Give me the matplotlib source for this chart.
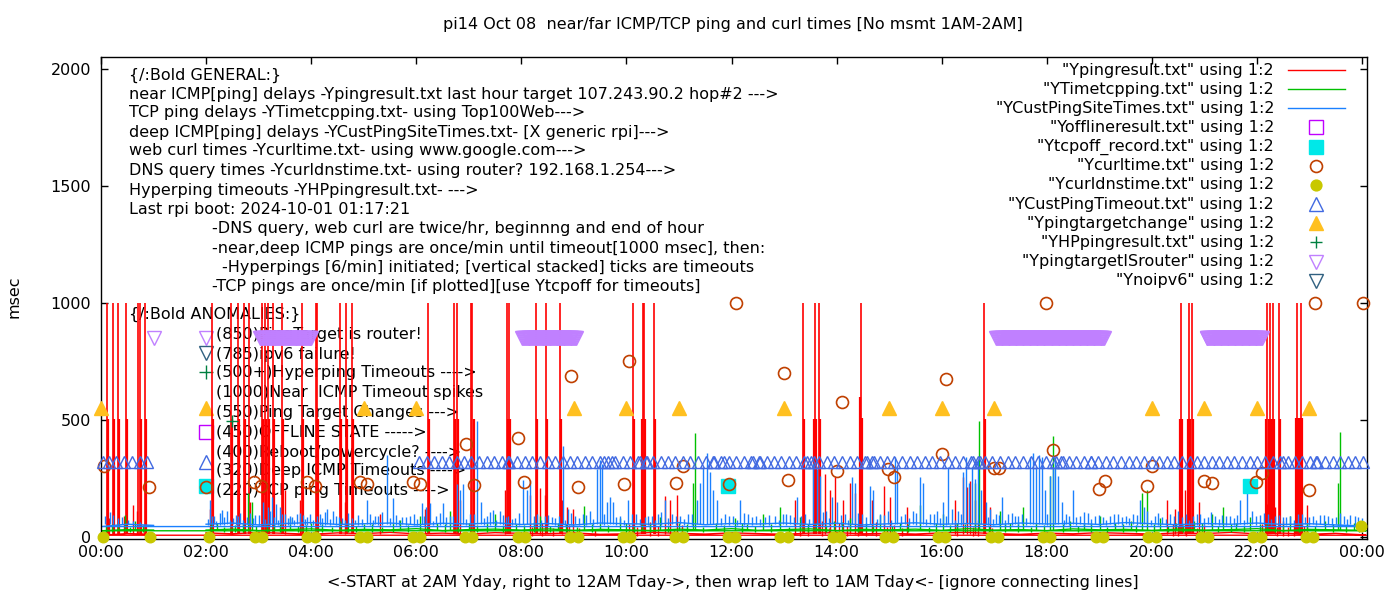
import matplotlib
matplotlib.use("Agg")
import matplotlib.pyplot as plt
from matplotlib.lines import Line2D
import numpy as np

plt.rcParams['font.family'] = ['DejaVu Sans']
FS = 11.5
W, H = 1400, 600

# ---------------- data: hours of day / msec ----------------
# samples run 2AM -> midnight, then wrap to 00:00 -> 1AM
base_hours = [2.0, 2.5, 3.0, 3.5, 4.0, 4.5, 5.0, 5.5, 6.0, 6.5, 7.0, 7.5, 8.0, 8.5,
              9.0, 9.5, 10.0, 10.5, 11.0, 11.5, 12.0, 12.5, 13.0, 13.5, 14.0, 14.5,
              15.0, 15.5, 16.0, 16.5, 17.0, 17.5, 18.0, 18.5, 19.0, 19.5, 20.0, 20.5,
              21.0, 21.5, 22.0, 22.5, 23.0, 23.5, 24.0, 24.08, 0.0, 0.5, 1.0]
red_base = [18, 14, 20, 16, 12, 18, 15, 20, 14, 17, 13, 19, 16, 15, 18, 12, 14, 20,
            16, 13, 18, 15, 12, 17, 19, 14, 16, 13, 18, 20, 15, 12, 17, 14, 19, 16,
            13, 18, 15, 20, 14, 17, 12, 16, 10, 8, 8, 15, 12]
green_base = [30, 34, 28, 32, 35, 29, 33, 31, 36, 28, 32, 34, 30, 35, 29, 33, 31, 28,
              34, 30, 36, 29, 32, 35, 28, 33, 31, 34, 29, 36, 30, 32, 28, 35, 31, 33,
              29, 34, 30, 32, 36, 28, 33, 31, 29, 27, 27, 32, 30]
blue_base = [55, 60, 52, 58, 62, 54, 57, 60, 53, 59, 56, 61, 54, 58, 52, 60, 57, 55,
             62, 53, 58, 56, 60, 54, 59, 52, 57, 61, 55, 58, 53, 60, 56, 59, 54, 62,
             57, 53, 58, 55, 60, 54, 57, 52, 48, 45, 45, 55, 50]

# near ICMP timeouts (1000 msec)
red_timeout_t = [0.12, 0.22, 0.33, 0.48, 0.71, 0.74, 0.84, 2.12, 2.48, 2.60, 2.73, 2.82,
                 3.07, 3.12, 3.18, 3.28, 3.45, 3.82, 4.09, 4.11, 4.55, 4.66, 4.78, 6.22,
                 6.72, 6.78, 7.04, 7.07, 7.73, 7.76, 8.28, 8.47, 8.74, 10.12, 10.31,
                 10.34, 10.52, 13.36, 13.59, 13.66, 14.47, 16.81, 20.56, 20.71, 20.76,
                 22.20, 22.24, 22.30, 22.42, 22.76, 22.84]
red_half_t = [0.14, 0.24, 0.35, 0.50, 0.76, 0.86, 2.14, 2.50, 2.62, 2.75, 3.09, 3.14,
              3.20, 3.30, 3.47, 3.84, 4.13, 4.57, 4.68, 4.80, 6.24, 6.74, 6.80, 7.09,
              7.75, 7.78, 8.30, 8.49, 8.76, 10.14, 10.29, 10.36, 10.54, 13.38, 13.57,
              13.61, 13.68, 14.45, 14.49, 16.83, 20.54, 20.58, 20.69, 20.73, 20.78,
              22.18, 22.22, 22.26, 22.28, 22.32, 22.44, 22.74, 22.78, 22.82, 22.86]
red_half_v = [505, 505, 505, 505, 505, 505, 505, 505, 505, 505, 505, 505, 505, 505, 505,
              505, 505, 505, 505, 505, 505, 505, 505, 505, 505, 505, 505, 505, 505, 505,
              505, 505, 505, 505, 505, 505, 505, 600, 510, 505, 506, 506, 506, 506, 506,
              506, 506, 506, 506, 506, 506, 510, 510, 510, 510]
red_mid_t = [0.15, 0.44, 0.61, 0.69, 2.07, 2.84, 3.50, 3.79, 4.64, 5.31, 6.17, 6.83,
             7.69, 8.17, 8.36, 8.45, 8.77, 8.87, 8.98, 10.73, 10.83, 10.96, 13.21,
             13.78, 13.88, 13.97, 14.12, 14.26, 14.35, 14.67, 14.90, 15.02, 15.34, 16.25,
             16.41, 16.48, 16.54, 16.63, 16.92, 20.29, 20.44, 20.63, 20.90, 22.19,
             22.34, 22.95]
red_mid_v = [80, 90, 136, 110, 120, 150, 200, 160, 150, 100, 120, 160, 200, 180, 208,
             180, 160, 130, 120, 175, 160, 180, 160, 270, 200, 255, 160, 230, 190, 160,
             220, 170, 130, 160, 255, 213, 240, 160, 130, 157, 120, 200, 150, 140, 130,
             136]
red_fuzz_t = [8.20, 8.40, 8.60, 8.90, 9.10, 9.40, 10.05, 10.20, 10.45, 10.60, 10.90, 11.05,
              13.30, 13.45, 13.72, 13.85, 14.05, 14.20, 14.40, 14.55, 14.75, 14.95, 15.10,
              15.25, 16.30, 16.60, 16.70, 16.95, 20.40, 20.50, 20.65, 20.85, 21.00, 22.10,
              22.38, 22.50, 22.60, 22.70, 22.90]
red_fuzz_v = [45, 60, 38, 52, 40, 35, 55, 42, 65, 48, 36, 50, 58, 44, 70, 40, 62, 47, 55,
              38, 66, 43, 51, 37, 60, 45, 72, 40, 55, 48, 63, 38, 50, 58, 44, 67, 41, 53,
              46]

green_spike_t = [0.32, 0.46, 0.65, 2.20, 2.80, 2.87, 3.30, 3.60, 4.00, 4.55, 5.00, 5.69,
                 6.07, 6.40, 6.64, 7.00, 7.50, 7.90, 8.36, 8.70, 9.19, 9.50, 9.88, 10.30,
                 10.64, 11.00, 11.27, 11.31, 11.70, 12.07, 12.30, 12.60, 12.92, 13.30,
                 13.60, 13.95, 14.26, 14.55, 14.83, 15.20, 15.59, 16.03, 16.30, 16.63,
                 16.71, 17.11, 17.30, 17.55, 17.80, 18.06, 18.12, 18.45, 18.70, 19.01,
                 19.30, 19.60, 19.81, 19.91, 20.16, 20.45, 20.80, 21.15, 21.36, 21.60,
                 21.87, 22.20, 22.63, 22.95, 23.30, 23.54, 23.58, 23.85]
green_spike_v = [60, 94, 70, 60, 189, 150, 55, 80, 60, 70, 55, 75, 90, 60, 110, 60, 100,
                 55, 90, 60, 133, 60, 80, 55, 85, 60, 232, 446, 60, 80, 55, 100, 130, 85,
                 60, 70, 80, 60, 95, 60, 135, 100, 60, 230, 494, 110, 60, 130, 60, 260,
                 433, 70, 60, 90, 60, 70, 189, 200, 80, 60, 70, 100, 130, 60, 85, 60, 90,
                 60, 70, 230, 447, 60]
green_fuzz_t = [0.10, 0.20, 0.55, 0.80, 2.10, 2.35, 2.55, 2.70, 2.95, 3.15, 3.40, 3.75,
                3.90, 4.20, 4.40, 4.70, 4.85, 5.15, 5.35, 5.55, 5.85, 6.20, 6.55, 6.80,
                7.15, 7.35, 7.65, 8.05, 8.25, 8.55, 8.85, 9.05, 9.35, 9.65, 10.00, 10.15,
                10.45, 10.80, 11.15, 11.45, 11.85, 12.20, 12.45, 12.75, 13.10, 13.45,
                13.80, 14.10, 14.40, 14.70, 15.05, 15.35, 15.75, 15.90, 16.15, 16.45,
                16.90, 17.20, 17.45, 17.70, 17.95, 18.30, 18.60, 18.85, 19.15, 19.45,
                19.70, 20.05, 20.30, 20.60, 20.95, 21.25, 21.50, 21.75, 22.05, 22.35,
                22.50, 22.80, 23.10, 23.45, 23.70, 23.95]
green_fuzz_v = [48, 55, 45, 52, 58, 44, 50, 62, 47, 53, 57, 46, 51, 60, 43, 54, 49, 56,
                45, 61, 50, 47, 58, 44, 53, 59, 46, 52, 65, 48, 55, 43, 57, 50, 62, 46,
                54, 49, 58, 45, 52, 60, 47, 55, 44, 57, 51, 63, 46, 53, 49, 58, 45, 61,
                50, 56, 47, 54, 59, 44, 52, 57, 48, 62, 45, 55, 50, 58, 46, 53, 60, 47,
                54, 49, 57, 44, 52, 59, 48, 55, 50, 46]

blue_spike_t = [0.08, 0.17, 0.23, 0.32, 0.40, 0.51, 0.61, 0.74,
                2.07, 2.15, 2.30, 2.40, 2.51, 2.65, 2.78, 2.93, 3.08, 3.18, 3.25, 3.33,
                3.41, 3.50, 3.64, 3.73, 3.84, 3.98, 4.11, 4.30, 4.42, 4.59, 4.83, 5.06,
                5.22, 5.44, 5.56, 5.73, 5.88, 6.11, 6.19, 6.26, 6.38, 6.51, 6.64, 6.78,
                6.83, 6.89, 7.02, 7.16, 7.23, 7.35, 7.46, 7.59, 7.75, 7.88, 8.03, 8.11,
                8.17, 8.30, 8.45, 8.58, 8.79, 8.89, 9.02, 9.17, 9.31, 9.44, 9.50, 9.53,
                9.63, 9.69, 9.74, 9.88, 10.03, 10.18, 10.35, 10.48, 10.60, 10.73, 10.87,
                11.02, 11.17, 11.34, 11.40, 11.46, 11.53, 11.59, 11.65, 11.72, 11.87,
                12.03, 12.16, 12.31, 12.47, 12.64, 12.83, 12.98, 13.11, 13.25, 13.40,
                13.55, 13.63, 13.68, 13.80, 13.91, 14.01, 14.16, 14.29, 14.35, 14.48,
                14.64, 14.69, 14.83, 14.98, 15.11, 15.15, 15.30, 15.45, 15.59, 15.65,
                15.78, 15.91, 16.03, 16.12, 16.20, 16.31, 16.41, 16.46, 16.52, 16.58,
                16.63, 16.69, 16.75, 16.84, 16.92, 17.03, 17.15, 17.26, 17.40, 17.53,
                17.68, 17.74, 17.80, 17.85, 17.91, 17.97, 18.06, 18.12, 18.16, 18.21,
                18.29, 18.37, 18.50, 18.63, 18.79, 18.92, 19.07, 19.20, 19.36, 19.51,
                19.64, 19.78, 19.85, 19.91, 20.06, 20.19, 20.35, 20.50, 20.65, 20.78,
                20.92, 21.07, 21.20, 21.34, 21.49, 21.68, 21.81, 21.91, 22.06, 22.21,
                22.34, 22.50, 22.63, 22.78, 22.92, 23.07, 23.20, 23.35, 23.51, 23.66,
                23.78, 23.93]
blue_spike_v = [90, 108, 95, 80, 85, 75, 70, 65,
                159, 90, 116, 110, 80, 103, 85, 95, 150, 130, 170, 140,
                130, 100, 85, 100, 95, 100, 90, 120, 110, 80, 75, 160,
                90, 352, 167, 85, 90, 145, 130, 145, 90, 145, 90, 228,
                200, 228, 100, 494, 150, 90, 115, 110, 90, 80, 245, 200,
                245, 100, 90, 85, 387, 120, 90, 100, 110, 290, 330, 310,
                150, 172, 150, 90, 160, 100, 85, 90, 100, 160, 100,
                90, 100, 160, 230, 300, 360, 280, 200, 160, 100,
                90, 160, 100, 90, 85, 90, 100, 95, 170, 100,
                317, 290, 260, 110, 170, 150, 100, 257, 230, 100,
                220, 200, 100, 110, 343, 300, 100, 110, 257, 230,
                100, 110, 150, 300, 120, 110, 280, 340, 230, 300,
                250, 330, 200, 150, 120, 100, 172, 100, 90, 100,
                340, 360, 300, 350, 340, 200, 260, 300, 343, 260,
                150, 100, 200, 90, 103, 90, 85, 90, 100, 90,
                100, 160, 130, 110, 90, 85, 100, 110, 100, 90,
                100, 85, 90, 95, 90, 160, 210, 110, 95, 100,
                90, 85, 90, 100, 85, 90, 95, 90, 85, 90,
                95, 85]
blue_fuzz_t = [2.03, 2.11, 2.19, 2.26, 2.35, 2.45, 2.56, 2.60, 2.71, 2.84,
               2.89, 3.01, 3.12, 3.21, 3.29, 3.37, 3.45, 3.55, 3.60, 3.68,
               3.78, 3.89, 3.93, 4.04, 4.16, 4.21, 4.26, 4.35, 4.48, 4.53,
               4.65, 4.71, 4.77, 4.90, 4.96, 5.12, 5.17, 5.28, 5.34, 5.50,
               5.62, 5.67, 5.80, 5.95, 6.02, 6.15, 6.31, 6.45, 6.57, 6.70,
               6.95, 7.09, 7.29, 7.40, 7.52, 7.66, 7.70, 7.82, 7.95, 8.24,
               8.37, 8.51, 8.64, 8.72, 8.84, 8.95, 9.09, 9.24, 9.37, 9.58,
               9.80, 9.95, 10.10, 10.25, 10.41, 10.54, 10.66, 10.80, 10.95, 11.10,
               11.25, 11.80, 11.95, 12.10, 12.24, 12.39, 12.55, 12.72, 12.90, 13.04,
               13.18, 13.32, 13.47, 13.74, 13.86, 14.08, 14.22, 14.41, 14.56, 14.76,
               14.90, 15.04, 15.22, 15.37, 15.52, 15.71, 15.85, 15.97, 16.08, 16.25,
               16.36, 16.88, 16.97, 17.09, 17.20, 17.33, 17.46, 17.60, 18.00, 18.33,
               18.43, 18.56, 18.70, 18.85, 19.00, 19.13, 19.28, 19.43, 19.57, 19.71,
               19.98, 20.12, 20.27, 20.42, 20.57, 20.71, 20.85, 21.00, 21.13, 21.27,
               21.41, 21.56, 21.62, 21.75, 21.98, 22.13, 22.27, 22.42, 22.56, 22.70,
               22.85, 23.00, 23.13, 23.28, 23.43, 23.58, 23.72, 23.86, 24.00]
blue_fuzz_v = [78, 92, 70, 101, 84, 75, 96, 88, 72, 105,
               80, 94, 76, 110, 86, 73, 99, 82, 91, 74,
               104, 79, 87, 71, 97, 83, 108, 76, 90, 85,
               73, 102, 80, 93, 77, 98, 72, 89, 106, 81,
               95, 74, 87, 100, 78, 92, 70, 103, 84, 90,
               76, 99, 81, 107, 73, 94, 86, 78, 101, 88,
               72, 96, 83, 91, 75, 104, 80, 93, 77, 98,
               85, 72, 100, 79, 92, 74, 106, 83, 88, 76,
               97, 81, 90, 73, 103, 86, 78, 95, 71, 99,
               84, 92, 77, 108, 80, 94, 73, 101, 87, 79,
               96, 74, 90, 83, 105, 76, 98, 82, 89, 72,
               100, 85, 78, 94, 71, 103, 88, 80, 97, 75,
               91, 84, 106, 77, 93, 72, 99, 86, 81, 95,
               74, 102, 79, 90, 85, 73, 97, 83, 108, 76,
               92, 80, 94, 71, 88, 101, 78, 96, 84, 73,
               99, 87, 75, 93, 80, 104, 77, 90, 82]

# offline state: no records today
offline_t = []
offline_v = []
tcpoff_t = [11.93, 21.87]
tcpoff_v = [220, 220]
curl_t = [0.05, 0.92, 2.00, 2.91, 3.05, 3.93, 4.08, 4.93, 5.07, 5.94, 6.08, 6.95, 7.09,
          7.94, 8.06, 8.95, 9.07, 9.96, 10.04, 10.95, 11.08, 11.96, 12.08, 12.99,
          13.08, 14.00, 14.10, 14.97, 15.09, 16.00, 16.08, 16.99, 17.10, 17.99, 18.12,
          18.99, 19.10, 19.90, 20.00, 20.99, 21.14, 21.99, 22.10, 23.00, 23.10, 24.02]
curl_v = [305, 215, 215, 236, 219, 236, 219, 236, 227, 236, 227, 399, 223, 421, 236,
          687, 215, 227, 751, 232, 305, 227, 1000, 700, 245, 283, 575, 292, 258, 356,
          674, 296, 296, 1000, 373, 206, 240, 219, 305, 240, 232, 236, 275, 202, 1000,
          1000]
dns_t = [0.04, 0.93, 2.05, 2.93, 3.07, 3.93, 4.07, 4.93, 5.07, 5.93, 6.07, 6.93, 7.07,
         7.93, 8.07, 8.93, 9.07, 9.93, 10.07, 10.93, 11.07, 11.93, 12.07, 12.93, 13.07,
         13.93, 14.07, 14.93, 15.07, 15.93, 16.07, 16.93, 17.07, 17.93, 18.07, 18.93,
         19.07, 19.93, 20.07, 20.93, 21.07, 21.93, 22.07, 22.93, 23.07, 23.98]
dns_v = [2, 2, 2, 2, 2, 2, 2, 2, 2, 2, 2, 2, 2, 2, 2, 2, 2, 2, 2, 2, 2, 2, 2, 2, 2,
         2, 2, 2, 2, 2, 2, 2, 2, 2, 2, 2, 2, 2, 2, 2, 2, 2, 2, 2, 2, 47]
# deep ICMP timeouts, minutes after midnight (plotted at 320)
custto_min = [2, 9, 17, 26, 35, 44, 53,
              363, 372, 380, 389, 397, 406, 415, 423, 432, 441, 449, 458, 465, 466, 475,
              484, 492, 501, 510, 518, 527, 535, 544, 553, 561, 570, 574, 579, 583, 587,
              596, 604, 613, 616, 622, 624, 630, 639, 648, 656, 665, 673, 682, 691, 699,
              700, 708, 711, 717, 725, 734, 742, 744, 751, 752, 760, 768, 777, 786, 794,
              803, 806, 811, 814, 820, 829, 837, 846, 855, 863, 872, 875, 880, 883, 889,
              898, 906, 915, 924, 932, 941, 949, 958, 967, 975, 984, 993, 996, 1001,
              1004, 1010, 1018, 1027, 1036, 1044, 1053, 1062, 1070, 1079, 1087, 1091,
              1096, 1099, 1105, 1113, 1122, 1130, 1131, 1139, 1148, 1156, 1165, 1174,
              1182, 1191, 1200, 1208, 1217, 1225, 1234, 1243, 1251, 1260, 1269, 1277,
              1286, 1294, 1303, 1312, 1320, 1329, 1338, 1346, 1350, 1355, 1363, 1372,
              1381, 1387, 1389, 1398, 1407, 1415, 1424, 1432, 1441]
custto_level = 320
target_change_t = [0.0, 5.0, 6.0, 9.0, 10.0, 11.0, 13.0, 15.0, 16.0, 17.0, 20.0, 21.0,
                   22.0, 23.0]
target_change_level = 550
hpping_t = [2.49]
hpping_v = [495]
# ping target is router: single record plus once/min spans (start, end)
router_single_t = [1.0]
router_spans = [(3.02, 4.01), (8.02, 9.05), (17.04, 19.09), (21.04, 22.09)]
router_level = 850
noipv6_t = []

hour_ticks = [0, 2, 4, 6, 8, 10, 12, 14, 16, 18, 20, 22, 24]
hour_labels = ['00:00', '02:00', '04:00', '06:00', '08:00', '10:00', '12:00',
               '14:00', '16:00', '18:00', '20:00', '22:00', '00:00']

RED, GREEN, BLUE = '#ff0000', '#00c000', '#1a80ff'
C_OFF, C_TCP, C_CURL, C_DNS = '#c000ff', '#00e8e8', '#c04000', '#c8c800'
C_CUST, C_TGT, C_HP, C_RTR, C_V6 = '#4169e1', '#ffc020', '#008040', '#c080ff', '#306080'

fig = plt.figure(figsize=(14, 6), dpi=100)
ax = fig.add_axes([101 / W, 1 - 538.5 / H, 1265.5 / W, 481.5 / H])
ax.set_xlim(0, 24.085)
ax.set_ylim(-6, 2050)


def fp(x, y):
    return x / W, 1 - y / H


# lines (gnuplot draw order: red, green, blue)
ax.plot(base_hours, red_base, color=RED, lw=1, zorder=2)
ax.vlines(red_timeout_t, 15, 1000, color=RED, lw=1.2, zorder=2)
ax.vlines(red_half_t, 15, red_half_v, color=RED, lw=1.6, zorder=2)
ax.vlines(red_mid_t, 15, red_mid_v, color=RED, lw=1, zorder=2)
ax.vlines(red_fuzz_t, 5, red_fuzz_v, color=RED, lw=1, zorder=2)
ax.plot(base_hours, green_base, color=GREEN, lw=1, zorder=2.1)
ax.vlines(green_spike_t, 30, green_spike_v, color=GREEN, lw=1, zorder=2.1)
ax.vlines(green_fuzz_t, 22, green_fuzz_v, color=GREEN, lw=1, zorder=2.1)
ax.plot(base_hours, blue_base, color=BLUE, lw=1, zorder=2.2)
ax.vlines(blue_spike_t, 55, blue_spike_v, color=BLUE, lw=1, zorder=2.2)
ax.vlines(blue_fuzz_t, 50, blue_fuzz_v, color=BLUE, lw=1, zorder=2.2)

pts = dict(ls='none', clip_on=False)
ax.plot(tcpoff_t, tcpoff_v, marker='s', ms=9.4, mfc=C_TCP, mec=C_TCP, zorder=3, **pts)
ax.plot(curl_t, curl_v, marker='o', ms=8.6, mfc='none', mec=C_CURL, mew=1.2, zorder=3.1, **pts)
ax.plot(dns_t, dns_v, marker='o', ms=7.6, mfc=C_DNS, mec=C_DNS, zorder=3.2, **pts)
cust_hours = np.array(custto_min) / 60.0
ax.plot(cust_hours, [custto_level] * len(cust_hours), marker='^', ms=9.2, mfc='none',
        mec=C_CUST, mew=1, zorder=3.3, **pts)
ax.plot(target_change_t, [target_change_level] * len(target_change_t), marker='^', ms=10,
        mfc=C_TGT, mec=C_TGT, zorder=3.4, **pts)
ax.plot(hpping_t, hpping_v, marker='+', ms=9, mec=C_HP, mew=1, zorder=3.5, **pts)
router_t = list(router_single_t)
for a, b in router_spans:
    router_t += list(np.arange(a, b + 1e-6, 1 / 60.0))
ax.plot(router_t, [router_level] * len(router_t), marker='v', ms=9.5, mfc='none',
        mec=C_RTR, mew=1, zorder=3.6, **pts)

# axes styling
ax.set_xticks(hour_ticks)
ax.set_xticklabels(hour_labels)
ax.set_yticks([0, 500, 1000, 1500, 2000])
ax.tick_params(direction='in', length=5, width=1, top=True, right=True,
               labelsize=FS, colors='black')
ax.tick_params(axis='x', pad=5)
ax.tick_params(axis='y', pad=7)
for s in ax.spines.values():
    s.set_linewidth(1)

fig.text(*fp(733, 25), 'pi14 Oct 08  near/far ICMP/TCP ping and curl times [No msmt 1AM-2AM]',
         ha='center', va='center', fontsize=FS)
fig.text(*fp(733, 582), '<-START at 2AM Yday, right to 12AM Tday->, then wrap left to 1AM '
         'Tday<- [ignore connecting lines]', ha='center', va='center', fontsize=FS)
fig.text(*fp(14, 297), 'msec', rotation=90, ha='center', va='center', fontsize=FS)

# labels inside the plot (behind the data)
general = [
    (129, 75, '{/:Bold GENERAL:}'),
    (129, 94, 'near ICMP[ping] delays -Ypingresult.txt last hour target 107.243.90.2 hop#2 --->'),
    (129, 113, 'TCP ping delays -YTimetcpping.txt- using Top100Web--->'),
    (129, 132, 'deep ICMP[ping] delays -YCustPingSiteTimes.txt- [X generic rpi]--->'),
    (129, 151, 'web curl times -Ycurltime.txt- using www.google.com--->'),
    (129, 170, 'DNS query times -Ycurldnstime.txt- using router? 192.168.1.254--->'),
    (129, 190, 'Hyperping timeouts -YHPpingresult.txt- --->'),
    (129, 209, 'Last rpi boot: 2024-10-01 01:17:21'),
    (212, 229, '-DNS query, web curl are twice/hr, beginnng and end of hour'),
    (212, 248, '-near,deep ICMP pings are once/min until timeout[1000 msec], then:'),
    (222, 267, '-Hyperpings [6/min] initiated; [vertical stacked] ticks are timeouts'),
    (212, 286, '-TCP pings are once/min [if plotted][use Ytcpoff for timeouts]'),
    (129, 314, '{/:Bold ANOMALIES:}'),
    (216, 335, '(850)PingTarget is router!'),
    (216, 354, '(785)ipv6 failure!'),
    (216, 373, '(500+)Hyperping Timeouts ---->'),
    (216, 393, '(1000)Near  ICMP Timeout spikes'),
    (216, 413, '(550)Ping Target Changes --->'),
    (216, 432, '(450)OFFLINE STATE ----->'),
    (216, 452, '(400)Reboot/powercycle? ---->'),
    (216, 471, '(320)Deep ICMP Timeouts ---->'),
    (216, 490, '(220)TCP ping Timeouts ---->'),
]
for x, y, s in general:
    ax.text(*fp(x, y), s, transform=fig.transFigure, ha='left', va='center',
            fontsize=FS, zorder=1)

# symbols attached to the anomaly labels, placed at 02:00 and their value
anom_keys = [('v', C_RTR, 'none', 850), ('v', C_V6, 'none', 785), ('+', C_HP, C_HP, 705),
             ('^', C_TGT, C_TGT, 550), ('s', C_OFF, 'none', 450), ('^', C_CUST, 'none', 320),
             ('s', C_TCP, C_TCP, 220)]
for m, c, fc, v in anom_keys:
    ax.plot([2.0], [v], marker=m, ms=9.4, mfc=fc, mec=c, mew=1, zorder=1.5, **pts)

# key box, top right
key_rows = [('"Ypingresult.txt" using 1:2', 'line', RED, None),
            ('"YTimetcpping.txt" using 1:2', 'line', GREEN, None),
            ('"YCustPingSiteTimes.txt" using 1:2', 'line', BLUE, None),
            ('"Yofflineresult.txt" using 1:2', 's', C_OFF, 'none'),
            ('"Ytcpoff_record.txt" using 1:2', 's', C_TCP, C_TCP),
            ('"Ycurltime.txt" using 1:2', 'o', C_CURL, 'none'),
            ('"Ycurldnstime.txt" using 1:2', 'o', C_DNS, C_DNS),
            ('"YCustPingTimeout.txt" using 1:2', '^', C_CUST, 'none'),
            ('"Ypingtargetchange" using 1:2', '^', C_TGT, C_TGT),
            ('"YHPpingresult.txt" using 1:2', '+', C_HP, C_HP),
            ('"YpingtargetISrouter" using 1:2', 'v', C_RTR, 'none'),
            ('"Ynoipv6" using 1:2', 'v', C_V6, 'none')]
for i, (lab, kind, c, fc) in enumerate(key_rows):
    y = 70 + 19.15 * i
    fig.text(*fp(1274, y), lab, ha='right', va='center', fontsize=FS)
    if kind == 'line':
        x0, y0 = fp(1288, y)
        x1, _ = fp(1345, y)
        fig.add_artist(Line2D([x0, x1], [y0, y0], color=c, lw=1, transform=fig.transFigure))
    else:
        ms = {'s': 9.4, 'o': 8.6, '^': 9.4, 'v': 9.4, '+': 9}[kind]
        if kind == 'o' and fc != 'none':
            ms = 7.6
        fig.add_artist(Line2D([fp(1316, y)[0]], [fp(1316, y)[1]], marker=kind, ms=ms,
                              mfc=fc, mec=c, mew=1.2 if kind == 'o' else 1, ls='none',
                              transform=fig.transFigure))

fig.savefig('out.png', dpi=100)
